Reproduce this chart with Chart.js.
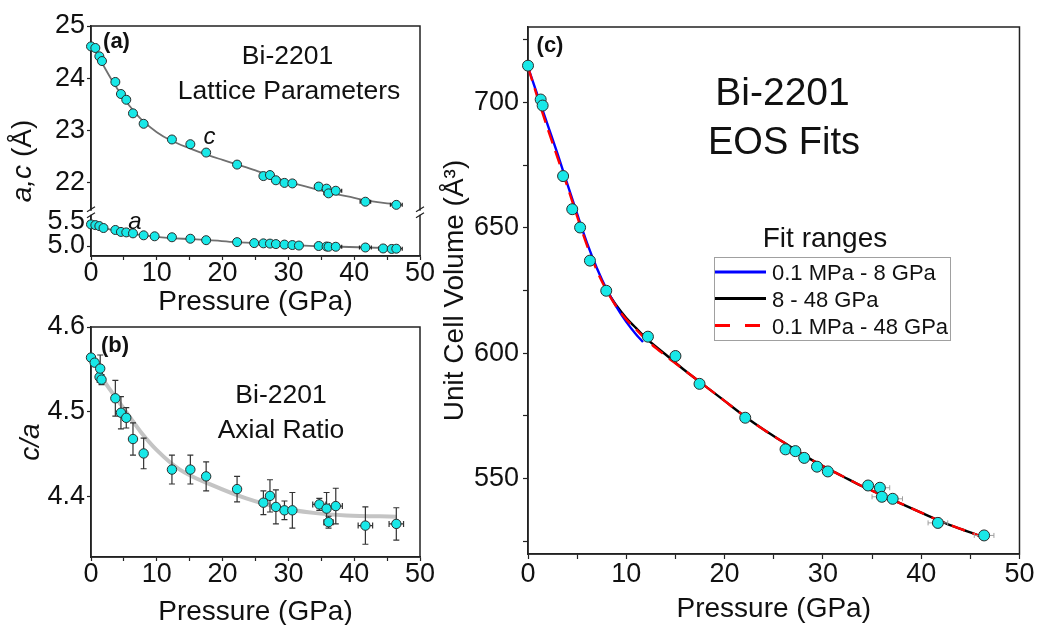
<!DOCTYPE html>
<html>
<head>
<meta charset="utf-8">
<title>Bi-2201 lattice parameters and EOS fits</title>
<script src="https://cdn.jsdelivr.net/npm/chart.js@4.4.1/dist/chart.umd.min.js"></script>
<style>
  body { margin: 0; background: #fff; }
  #fig { position: relative; width: 1037px; height: 625px; overflow: hidden; background: #fff; }
  #fig canvas { position: absolute; }
</style>
</head>
<body>
<div id="fig">
  <canvas id="chartA" width="450" height="320" style="left:0;top:0"></canvas>
  <canvas id="chartB" width="450" height="325" style="left:0;top:300px"></canvas>
  <canvas id="chartC" width="607" height="625" style="left:430px;top:0"></canvas>
</div>
<script>
// ---- panel (a): lattice parameters c and a ----
const pressC = [0, 0.66, 1.27, 1.67, 3.7, 4.55, 5.36, 6.38, 8.0, 12.3, 15.1, 17.5, 22.2, 26.2, 27.2, 28.1, 29.4, 30.6, 34.6, 35.8, 36.1, 37.2, 41.7, 46.4];
const cVals  = [24.61, 24.58, 24.42, 24.33, 23.93, 23.70, 23.59, 23.33, 23.13, 22.83, 22.74, 22.58, 22.35, 22.13, 22.15, 22.05, 22.00, 21.99, 21.93, 21.89, 21.80, 21.85, 21.64, 21.58];
const cXErr  = [0, 0, 0, 0, 0, 0, 0, 0, 0, 0, 0, 0, 0, 0, 0, 0, 0, 0, 0.6, 0.6, 0.7, 0.9, 0.8, 0.9];

const pressA = [0, 0.66, 1.27, 1.9, 3.7, 4.55, 5.36, 6.38, 8.0, 9.67, 12.3, 15.1, 17.5, 22.2, 24.8, 26.2, 27.2, 28.1, 29.4, 30.6, 31.6, 34.6, 35.8, 36.1, 37.2, 41.7, 44.4, 45.7, 46.4];
const aVals  = [5.445, 5.43, 5.41, 5.37, 5.33, 5.29, 5.28, 5.26, 5.22, 5.20, 5.18, 5.15, 5.12, 5.08, 5.06, 5.055, 5.05, 5.04, 5.03, 5.02, 5.01, 5.00, 4.99, 4.985, 4.985, 4.97, 4.95, 4.94, 4.945];
const aXErr  = [0, 0, 0, 0, 0, 0, 0, 0, 0, 0, 0, 0, 0, 0, 0, 0, 0, 0, 0, 0, 0, 0.5, 0, 0, 0.9, 0.9, 0.7, 0, 0.9];

// fit curves
const fitCP = [0.2, 1, 2, 3, 4, 5, 6, 7, 8, 10, 12, 15, 18, 20, 22, 25, 28, 30, 33, 36, 39, 42, 45, 47];
const fitCV = [24.6, 24.45, 24.22, 24.0, 23.8, 23.62, 23.45, 23.3, 23.17, 22.97, 22.82, 22.66, 22.52, 22.44, 22.36, 22.24, 22.1, 22.02, 21.92, 21.82, 21.74, 21.66, 21.61, 21.6];
const fitAP = [0, 2, 4, 6, 8, 10, 14, 18, 22, 26, 30, 34, 38, 42, 47];
const fitAV = [5.44, 5.37, 5.31, 5.26, 5.22, 5.19, 5.15, 5.12, 5.08, 5.055, 5.025, 5.0, 4.985, 4.97, 4.95];

// ---- panel (b): axial ratio c/a ----
const pressB = [0, 0.56, 1.3, 1.4, 1.6, 3.7, 4.55, 5.36, 6.38, 8.0, 12.3, 15.1, 17.5, 22.2, 26.2, 27.2, 28.1, 29.4, 30.6, 34.7, 35.8, 36.1, 37.2, 41.7, 46.4];
const caVals = [4.564, 4.558, 4.541, 4.551, 4.538, 4.516, 4.499, 4.493, 4.468, 4.451, 4.432, 4.432, 4.424, 4.409, 4.393, 4.401, 4.388, 4.384, 4.384, 4.391, 4.386, 4.370, 4.389, 4.366, 4.368];
const caYErr = [0, 0.003, 0.006, 0.016, 0.006, 0.021, 0.019, 0.012, 0.019, 0.018, 0.017, 0.017, 0.017, 0.015, 0.014, 0.019, 0.020, 0.011, 0.021, 0.007, 0.019, 0.007, 0.021, 0.022, 0.019];
const caXErr = [0, 0, 0, 0, 0, 0, 0, 0, 0, 0, 0, 0, 0, 0, 0, 0, 0, 0, 0, 1.0, 0.5, 0.7, 1.0, 1.1, 1.1];
const fitBP = [1.5, 3, 4.5, 6, 7.5, 10, 13.5, 18.6, 23.6, 28.7, 33.8, 38.8, 46.4];
const fitBV = [4.542, 4.525, 4.509, 4.493, 4.477, 4.455, 4.432, 4.413, 4.398, 4.387, 4.381, 4.378, 4.3765];

// ---- panel (c): unit cell volume and EOS fits ----
const pressV  = [0, 1.29, 1.49, 3.57, 4.5, 5.3, 6.3, 7.96, 12.2, 15.0, 17.45, 22.1, 26.2, 27.2, 28.1, 29.4, 30.5, 34.6, 35.8, 36.0, 37.1, 41.7, 46.4];
const volVals = [714.6, 701.1, 698.7, 670.6, 657.4, 650.1, 636.9, 624.9, 606.6, 598.9, 587.8, 574.3, 561.7, 561.0, 558.3, 554.8, 552.9, 547.3, 546.4, 542.8, 542.0, 532.4, 527.4];
const volYErr = [0, 0, 0, 2.0, 1.0, 0, 1.0, 0, 0.8, 0, 0, 0, 0, 0, 0, 0, 1.2, 0, 0, 0, 1.2, 2.0, 1.0];
const volXErr = [0, 0, 0, 0, 0, 0, 0, 0, 0, 0, 0, 0, 0, 0, 0, 0, 0, 0.4, 1.0, 1.0, 1.0, 1.0, 1.0];

const fitRedP   = [0, 1, 2, 3, 4, 5, 6, 7, 8, 9, 10, 11, 12, 14, 16, 18, 20, 22, 24, 26, 28, 30, 32, 34, 36, 38, 40, 42, 44, 46.5];
const fitRedV   = [714, 701.5, 689.5, 678, 666.5, 654.5, 643, 633, 625, 618.5, 613.5, 609.5, 605.5, 599, 593, 587, 581, 575, 569.5, 564.5, 559.5, 555, 551, 547, 543.5, 540, 536.5, 533, 530, 526.5];
const fitBlueP  = [0, 1, 2, 3, 4, 5, 6, 7, 8, 9, 10, 11, 11.7];
const fitBlueV  = [714, 702.5, 691, 679.5, 667.5, 655.5, 644, 634, 625.5, 618.5, 612.5, 607.5, 604.5];
const fitBlackP = [8, 9, 10, 11, 12, 14, 16, 18, 20, 22, 24, 26, 28, 30, 32, 34, 36, 38, 40, 42, 44, 46.5];
const fitBlackV = [625, 619, 614, 610, 606, 599.5, 593, 587, 581, 575, 569.5, 564.5, 559.5, 555, 551, 547, 543.5, 540, 536.5, 533, 530, 526.5];

const FONT = '"Liberation Sans", Arial, Helvetica, sans-serif';
const CYAN = 'rgb(24, 232, 232)';
const EDGE = '#2b2b2b';
const AXIS = '#222';
const INK = '#111';

Chart.defaults.font.family = FONT;
Chart.defaults.color = INK;

function pts(xs, ys, xe, ye) {
  return xs.map((x, i) => ({ x: x, y: ys[i], xe: xe ? xe[i] : 0, ye: ye ? ye[i] : 0 }));
}
function linePts(xs, ys) {
  return xs.map((x, i) => ({ x: x, y: ys[i] }));
}
function markers(r) {
  return { backgroundColor: CYAN, borderColor: EDGE, borderWidth: 1, pointRadius: r, pointHoverRadius: r, clip: false };
}
function fitLine(color, width, dash) {
  return { showLine: true, pointRadius: 0, borderColor: color, borderWidth: width, borderDash: dash || [],
           cubicInterpolationMode: 'monotone', fill: false, clip: false };
}
function keepEvery(step) {
  return scale => {
    scale.ticks = scale.ticks.filter(t => Math.abs(t.value / step - Math.round(t.value / step)) < 1e-6);
  };
}
function pressureAxis(tickLen, pad, height, titlePad) {
  return {
    type: 'linear', min: 0, max: 50,
    ticks: { stepSize: 5, autoSkip: false, maxRotation: 0, includeBounds: false, padding: pad,
             font: { size: 27, lineHeight: 1 }, color: INK,
             callback: v => (v % 10 === 0 ? v : '') },
    grid: { drawOnChartArea: false, drawTicks: true, tickLength: tickLen, tickWidth: 1.2, tickColor: AXIS },
    border: { display: true, color: AXIS, width: 1.5 },
    title: { display: true, text: 'Pressure (GPa)', color: INK, font: { size: 28 }, padding: { top: 0, bottom: titlePad } },
    afterFit: s => { s.height = height; }
  };
}
function valueAxis(opts) {
  return {
    type: 'linear', position: 'left', min: opts.min, max: opts.max,
    stack: opts.stack, stackWeight: opts.stackWeight, weight: opts.weight || 0,
    ticks: { stepSize: opts.step, includeBounds: false, autoSkip: false, padding: opts.pad,
             font: { size: 27, lineHeight: 1 }, color: INK, callback: opts.label },
    grid: { drawOnChartArea: false, drawTicks: true, tickLength: opts.tickLen, tickWidth: 1.2, tickColor: AXIS },
    border: { display: true, color: AXIS, width: 1.5 },
    title: opts.title || { display: false },
    afterBuildTicks: keepEvery(opts.keep || opts.step),
    afterFit: s => { s.width = opts.width; }
  };
}

// error bars drawn under the markers of each data set that carries xe / ye
const errorBars = {
  id: 'errorBars',
  beforeDatasetDraw(chart, args, opts) {
    const ds = chart.data.datasets[args.index];
    if (!ds.hasErrors) return;
    const xs = chart.scales[args.meta.xAxisID];
    const ys = chart.scales[args.meta.yAxisID];
    const ctx = chart.ctx;
    const cap = opts.cap || 0;
    ctx.save();
    ctx.strokeStyle = opts.color;
    ctx.lineWidth = opts.width;
    ds.data.forEach(p => {
      const px = xs.getPixelForValue(p.x);
      const py = ys.getPixelForValue(p.y);
      ctx.beginPath();
      if (p.ye) {
        const y1 = ys.getPixelForValue(p.y + p.ye), y2 = ys.getPixelForValue(p.y - p.ye);
        ctx.moveTo(px, y1); ctx.lineTo(px, y2);
        if (cap) {
          ctx.moveTo(px - cap, y1); ctx.lineTo(px + cap, y1);
          ctx.moveTo(px - cap, y2); ctx.lineTo(px + cap, y2);
        }
      }
      if (p.xe) {
        const x1 = xs.getPixelForValue(p.x - p.xe), x2 = xs.getPixelForValue(p.x + p.xe);
        ctx.moveTo(x1, py); ctx.lineTo(x2, py);
        if (cap) {
          ctx.moveTo(x1, py - cap); ctx.lineTo(x1, py + cap);
          ctx.moveTo(x2, py - cap); ctx.lineTo(x2, py + cap);
        }
      }
      ctx.stroke();
    });
    ctx.restore();
  }
};

function drawText(ctx, t) {
  ctx.save();
  ctx.translate(t.x, t.y);
  if (t.rot) ctx.rotate(t.rot);
  ctx.textBaseline = 'middle';
  ctx.textAlign = 'left';
  ctx.fillStyle = INK;
  const parts = t.parts || [{ s: t.s, style: t.style, weight: t.weight }];
  const fonts = parts.map(p => `${p.style || 'normal'} ${p.weight || 'normal'} ${t.size}px ${FONT}`);
  let total = 0;
  const widths = parts.map((p, i) => {
    ctx.font = fonts[i];
    const w = ctx.measureText(p.s).width;
    total += w;
    return w;
  });
  let x = t.align === 'left' ? 0 : -total / 2;
  parts.forEach((p, i) => {
    ctx.font = fonts[i];
    ctx.fillText(p.s, x, 0);
    x += widths[i];
  });
  ctx.restore();
}

// frame, axis break, free text and the in-plot legend
const decor = {
  id: 'decor',
  beforeDatasetsDraw(chart, args, opts) {
    const { ctx, chartArea: a } = chart;
    ctx.save();
    ctx.strokeStyle = AXIS;
    ctx.lineWidth = 1.5;
    ctx.strokeRect(a.left, a.top, a.right - a.left, a.bottom - a.top);
    if (opts.breakAxis) {
      const yb = chart.scales[opts.breakAxis].bottom;
      [a.left, a.right].forEach(x => {
        ctx.fillStyle = '#fff';
        ctx.fillRect(x - 3, yb - 2, 6, 4);
        ctx.beginPath();
        ctx.lineWidth = 1.2;
        ctx.moveTo(x - 4, yb - 1); ctx.lineTo(x + 4, yb - 6);
        ctx.moveTo(x - 4, yb + 5); ctx.lineTo(x + 4, yb);
        ctx.stroke();
      });
    }
    ctx.restore();
  },
  afterDraw(chart, args, opts) {
    const ctx = chart.ctx;
    (opts.texts || []).forEach(t => drawText(ctx, t));
    const lg = opts.legend;
    if (lg) {
      ctx.save();
      ctx.fillStyle = '#fff';
      ctx.fillRect(lg.x, lg.y, lg.w, lg.h);
      ctx.strokeStyle = '#a0a0a0';
      ctx.lineWidth = 1;
      ctx.strokeRect(lg.x + 0.5, lg.y + 0.5, lg.w, lg.h);
      lg.items.forEach((idx, row) => {
        const ds = chart.data.datasets[idx];
        const y = lg.y + lg.rows[row];
        ctx.beginPath();
        ctx.strokeStyle = ds.borderColor;
        ctx.lineWidth = 3;
        ctx.setLineDash(ds.borderDash && ds.borderDash.length ? [15, 15] : []);
        ctx.moveTo(lg.x + 1, y);
        ctx.lineTo(lg.x + 1 + lg.lineLen, y);
        ctx.stroke();
        ctx.setLineDash([]);
        drawText(ctx, { s: ds.label, x: lg.x + lg.textX, y: y + 2, size: lg.size, align: 'left' });
      });
      ctx.restore();
    }
  }
};

Chart.register(errorBars, decor);

const common = { responsive: false, animation: false, events: [] };

// panel (a)
new Chart(document.getElementById('chartA'), {
  type: 'scatter',
  data: {
    datasets: [
      Object.assign({ label: 'c', data: pts(pressC, cVals, cXErr, null), yAxisID: 'yc', hasErrors: true }, markers(4.5)),
      Object.assign({ label: 'a', data: pts(pressA, aVals, aXErr, null), yAxisID: 'ya', hasErrors: true }, markers(4.5)),
      Object.assign({ label: 'c fit', data: linePts(fitCP, fitCV), yAxisID: 'yc' }, fitLine('#707070', 1.8)),
      Object.assign({ label: 'a fit', data: linePts(fitAP, fitAV), yAxisID: 'ya' }, fitLine('#707070', 1.8))
    ]
  },
  options: Object.assign({}, common, {
    layout: { padding: { left: 0, right: 30, top: 26, bottom: 0 } },
    plugins: {
      legend: { display: false }, tooltip: { enabled: false },
      errorBars: { color: '#222', width: 1.2, cap: 2 },
      decor: {
        breakAxis: 'yc',
        texts: [
          { s: '(a)', x: 116.5, y: 41.5, size: 22, weight: 'bold' },
          { s: 'Bi-2201', x: 287.5, y: 57, size: 26.5 },
          { s: 'Lattice Parameters', x: 289, y: 92, size: 26.5 },
          { s: 'c', x: 209.5, y: 137, size: 24, style: 'italic' },
          { s: 'a', x: 135, y: 222, size: 24, style: 'italic' },
          { parts: [{ s: 'a,c', style: 'italic' }, { s: ' (Å)' }], x: 23.5, y: 161, size: 28, rot: -Math.PI / 2 }
        ]
      }
    },
    scales: {
      x: pressureAxis(4, 0.5, 64, 0.5),
      ya: valueAxis({ min: 4.795, max: 5.685, step: 0.5, stack: 'lat', stackWeight: 43.3, weight: 0,
                      pad: 2, tickLen: 4, width: 91, label: v => v.toFixed(1) }),
      yc: valueAxis({ min: 21.43, max: 25, step: 1, stack: 'lat', stackWeight: 186.7, weight: 1,
                      pad: 2, tickLen: 4, width: 91, label: v => v.toFixed(0) })
    }
  })
});

// panel (b)
new Chart(document.getElementById('chartB'), {
  type: 'scatter',
  data: {
    datasets: [
      Object.assign({ label: 'c/a', data: pts(pressB, caVals, caXErr, caYErr), hasErrors: true }, markers(4.7)),
      Object.assign({ label: 'c/a fit', data: linePts(fitBP, fitBV) }, fitLine('#c4c4c4', 4))
    ]
  },
  options: Object.assign({}, common, {
    layout: { padding: { left: 0, right: 30, top: 27, bottom: 0 } },
    plugins: {
      legend: { display: false }, tooltip: { enabled: false },
      errorBars: { color: '#333', width: 1.2, cap: 3 },
      decor: {
        texts: [
          { s: '(b)', x: 115, y: 45.5, size: 22, weight: 'bold' },
          { s: 'Bi-2201', x: 281, y: 96, size: 26.5 },
          { s: 'Axial Ratio', x: 281, y: 131, size: 26.5 }
        ]
      }
    },
    scales: {
      x: pressureAxis(4, 0.5, 68, -4),
      y: valueAxis({ min: 4.329, max: 4.6, step: 0.1, pad: 2, tickLen: 4, width: 91,
                     label: v => v.toFixed(1),
                     title: { display: true, text: 'c/a', color: INK, font: { size: 28, style: 'italic' },
                              padding: { top: 14.7, bottom: 0 } } })
    }
  })
});

// panel (c)
new Chart(document.getElementById('chartC'), {
  type: 'scatter',
  data: {
    datasets: [
      Object.assign({ label: 'V', data: pts(pressV, volVals, volXErr, volYErr), hasErrors: true }, markers(5.5)),
      Object.assign({ label: '0.1 MPa - 48 GPa', data: linePts(fitRedP, fitRedV) }, fitLine('#ff0000', 2.4, [14, 8])),
      Object.assign({ label: '0.1 MPa - 8 GPa', data: linePts(fitBlueP, fitBlueV) }, fitLine('#0000ff', 2.4)),
      Object.assign({ label: '8 - 48 GPa', data: linePts(fitBlackP, fitBlackV) }, fitLine('#000000', 2.4))
    ]
  },
  options: Object.assign({}, common, {
    layout: { padding: { left: 0, right: 15, top: 27, bottom: 0 } },
    plugins: {
      legend: { display: false }, tooltip: { enabled: false },
      errorBars: { color: '#a0a0a0', width: 1, cap: 2.5 },
      decor: {
        texts: [
          { s: '(c)', x: 120, y: 45.5, size: 22, weight: 'bold' },
          { s: 'Bi-2201', x: 352.5, y: 94, size: 39 },
          { s: 'EOS Fits', x: 354, y: 144, size: 38 },
          { s: 'Fit ranges', x: 395, y: 239, size: 28 }
        ],
        legend: { x: 284, y: 257, w: 236, h: 83, rows: [15, 41.5, 68.5], lineLen: 51, textX: 58, size: 22, items: [2, 3, 1] }
      }
    },
    scales: {
      x: pressureAxis(5, 2.5, 71, -1.5),
      y: valueAxis({ min: 520, max: 730, step: 25, pad: 4, tickLen: 5, width: 98,
                     label: v => (v % 50 === 0 ? v : ''),
                     title: { display: true, text: 'Unit Cell Volume (Å³)', color: INK, font: { size: 28 },
                              padding: { top: 8.5, bottom: 0 } } })
    }
  })
});
</script>
</body>
</html>
